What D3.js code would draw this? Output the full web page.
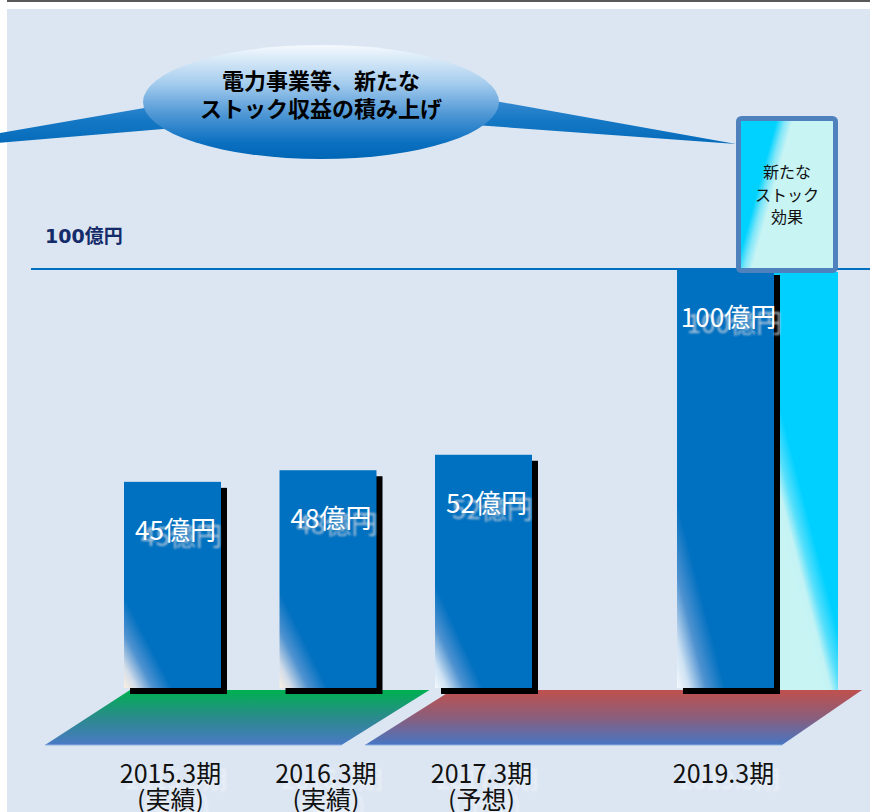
<!DOCTYPE html>
<html>
<head>
<meta charset="utf-8">
<script src="https://cdn.jsdelivr.net/npm/d3@7"></script>
<style>
  html, body { margin: 0; padding: 0; background: #ffffff; }
  svg { display: block; }
</style>
</head>
<body>
<svg id="chart" width="870" height="812"></svg>
<script>
// Operating profit by fiscal period (億円)
const periods = ["2015.3期", "2016.3期", "2017.3期", "2019.3期"];
const periodNotes = ["(実績)", "(実績)", "(予想)", ""];
const fiscalYears = [2015, 2016, 2017, 2019];
const profits = [45, 48, 52, 100];
const phases = ["actual", "actual", "plan", "plan"];
const targetValue = 100;
const unit = "億円";
const calloutLines = ["電力事業等、新たな", "ストック収益の積み上げ"];
const stockEffectLines = ["新たな", "ストック", "効果"];

const W = 870, H = 812;
const FONT = "'Noto Sans CJK JP', 'Noto Sans', sans-serif";
const svg = d3.select("#chart");
const defs = svg.append("defs");

// ---------- scales ----------
const barW = 97;
const floorY = 688;
const x = d3.scaleLinear().domain([2015, 2017, 2019]).range([124, 435, 677]);
const y = d3.scaleLinear().domain([0, targetValue]).range([656, 269]);

// ---------- gradients & filters ----------
function linearGrad(id, attrs, stops) {
  const g = defs.append("linearGradient").attr("id", id);
  Object.entries(attrs).forEach(([k, v]) => g.attr(k, v));
  stops.forEach(([o, c]) => g.append("stop").attr("offset", o).attr("stop-color", c));
}
linearGrad("barWarm", {x1: 0, y1: 1, x2: 0.223, y2: 0.752},
  [[0, "#fdf0e2"], [0.25, "#d3dde9"], [0.6, "#4f92d0"], [1, "#0070c0"]]);
linearGrad("barCool", {x1: 0, y1: 1, x2: 0.223, y2: 0.752},
  [[0, "#f4f9fd"], [0.25, "#cfe2f3"], [0.6, "#4f92d0"], [1, "#0070c0"]]);
linearGrad("stockBar", {x1: 0.40, y1: 0.80, x2: 0.53, y2: 0.58},
  [[0, "#c8f4f4"], [0.3, "#c4f3f5"], [0.6, "#56dffb"], [1, "#00d0ff"]]);
linearGrad("stockBox", {x1: 0.2, y1: 0.46, x2: 0.34, y2: 0.52},
  [[0, "#00d2ff"], [0.5, "#7fe6f8"], [1, "#c8f4f4"]]);
linearGrad("plateActual", {x1: 0, y1: 0, x2: 0, y2: 1},
  [[0, "#00b050"], [0.5, "#2a8a8c"], [1, "#4a7ac6"]]);
linearGrad("platePlan", {x1: 0, y1: 0, x2: 0, y2: 1},
  [[0, "#c0504d"], [0.5, "#8a5e7c"], [1, "#4676c4"]]);
linearGrad("bubble", {gradientUnits: "userSpaceOnUse", x1: 0, y1: 46, x2: 0, y2: 158},
  [[0, "#f3f8fd"], [0.33, "#a6cdee"], [0.6, "#5299d6"], [0.86, "#0c70c1"], [1, "#0066b6"]]);
linearGrad("tail", {gradientUnits: "userSpaceOnUse", x1: 0, y1: 98, x2: 0, y2: 150},
  [[0, "#3a8cd2"], [0.45, "#1477c4"], [1, "#0068b8"]]);

const blur = defs.append("filter").attr("id", "soft")
  .attr("x", "-10%").attr("y", "-20%").attr("width", "120%").attr("height", "140%");
blur.append("feGaussianBlur").attr("stdDeviation", 1.3);

// ---------- background ----------
svg.append("rect").attr("x", 7).attr("y", 0).attr("width", W - 7).attr("height", 2).attr("fill", "#595959");
svg.append("rect").attr("x", 7).attr("y", 9).attr("width", W - 7).attr("height", H - 9).attr("fill", "#dce6f2");

// ---------- callout bubble ----------
const bubble = svg.append("g");
bubble.append("polygon")
  .attr("points", [[-109, 152], [150, 107], [200, 110], [200, 125], [175, 128]].join(" "))
  .attr("fill", "url(#tail)");
bubble.append("polygon")
  .attr("points", [[736, 144], [495, 101], [440, 101], [440, 125], [475, 125]].join(" "))
  .attr("fill", "url(#tail)");
bubble.append("ellipse").attr("cx", 321).attr("cy", 102).attr("rx", 178).attr("ry", 57)
  .attr("fill", "url(#bubble)");
bubble.selectAll("text").data(calloutLines).join("text")
  .attr("x", 321).attr("y", (d, i) => 89 + i * 28)
  .attr("text-anchor", "middle")
  .attr("font-family", FONT).attr("font-weight", 700).attr("font-size", 22)
  .attr("fill", "#000").text(d => d);

// ---------- target line ----------
svg.append("line").attr("x1", 31).attr("x2", W).attr("y1", y(targetValue)).attr("y2", y(targetValue))
  .attr("stroke", "#0070c0").attr("stroke-width", 2);
svg.append("text").attr("x", 45).attr("y", y(targetValue) - 26)
  .attr("font-family", "'DejaVu Sans', 'Noto Sans CJK JP', sans-serif")
  .attr("font-weight", 700).attr("font-size", 19).attr("fill", "#142b6a")
  .text(targetValue + unit);

// ---------- floor plates ----------
const data = periods.map((p, i) => ({
  period: p, note: periodNotes[i], year: fiscalYears[i], value: profits[i], phase: phases[i]
}));
const plateTop = floorY + 2, plateBottom = 745;
const actual = data.filter(d => d.phase === "actual");
const plan = data.filter(d => d.phase === "plan");
const stockX = x(2019) + barW, stockW = 64;
function plate(x0, x1, skewL, skewR, fill) {
  svg.append("polygon")
    .attr("points", [[x0, plateTop], [x1, plateTop], [x1 - skewR, plateBottom], [x0 - skewL, plateBottom]].join(" "))
    .attr("fill", fill);
  svg.append("line").attr("x1", x0 - skewL).attr("x2", x1 - skewR)
    .attr("y1", plateBottom).attr("y2", plateBottom)
    .attr("stroke", "#8fb0dc").attr("stroke-width", 1);
}
plate(x(actual[0].year) + 6, x(actual[actual.length - 1].year) + barW + 53, 85, 88, "url(#plateActual)");
plate(x(plan[0].year) + 17, stockX + stockW + 24, 87, 80, "url(#platePlan)");

// ---------- new stock effect column (behind the 2019 bar) ----------
svg.append("rect").attr("x", stockX).attr("y", y(targetValue) + 3)
  .attr("width", stockW).attr("height", plateTop - y(targetValue) - 3)
  .attr("fill", "url(#stockBar)");

// ---------- bars ----------
const bars = svg.append("g");
bars.selectAll("rect.shadow").data(data).join("rect").attr("class", "shadow")
  .attr("x", d => x(d.year) + 6).attr("y", d => y(d.value) + 6)
  .attr("width", barW).attr("height", d => floorY - y(d.value))
  .attr("fill", "#000");
bars.selectAll("rect.bar").data(data).join("rect").attr("class", "bar")
  .attr("x", d => x(d.year)).attr("y", d => y(d.value))
  .attr("width", barW).attr("height", d => floorY - y(d.value))
  .attr("fill", d => d.phase === "actual" ? "url(#barWarm)" : "url(#barCool)");

// value labels with a soft ghost copy
const vl = svg.append("g").attr("font-family", FONT).attr("font-size", 26).attr("text-anchor", "middle");
vl.selectAll("text.ghost").data(data).join("text").attr("class", "ghost")
  .attr("x", d => x(d.year) + barW / 2 + 9).attr("y", d => y(d.value) + 64)
  .attr("fill", "#c6d0de").attr("opacity", 0.85).attr("filter", "url(#soft)")
  .text(d => d.value + unit);
vl.selectAll("text.val").data(data).join("text").attr("class", "val")
  .attr("x", d => x(d.year) + barW / 2 + 3).attr("y", d => y(d.value) + 58)
  .attr("fill", "#ffffff")
  .text(d => d.value + unit);

// ---------- stock effect box ----------
const boxL = x(2019) + 59, boxR = stockX + stockW, boxT = y(targetValue) - 153, boxB = y(targetValue) + 4;
svg.append("rect").attr("x", boxL + 2.5).attr("y", boxT + 2.5)
  .attr("width", boxR - boxL - 5).attr("height", boxB - boxT - 5).attr("rx", 3)
  .attr("fill", "url(#stockBox)").attr("stroke", "#4f81bd").attr("stroke-width", 5);
svg.append("g").selectAll("text").data(stockEffectLines).join("text")
  .attr("x", (boxL + boxR) / 2).attr("y", (d, i) => boxT + 62 + i * 22.5)
  .attr("text-anchor", "middle").attr("font-family", FONT).attr("font-size", 16)
  .attr("fill", "#111").text(d => d);

// ---------- period labels ----------
const pl = svg.append("g").attr("font-family", FONT).attr("font-size", 25).attr("text-anchor", "middle");
[["ghost", 6, 6], ["main", 0, 0]].forEach(([cls, dx, dy]) => {
  const g = pl.append("g");
  if (cls === "ghost") g.attr("fill", "#ffffff").attr("opacity", 0.45).attr("filter", "url(#soft)");
  else g.attr("fill", "#111111");
  g.selectAll("text.p").data(data).join("text").attr("class", "p")
    .attr("x", d => x(d.year) + barW / 2 - 2 + dx).attr("y", 783 + dy).text(d => d.period);
  g.selectAll("text.n").data(data.filter(d => d.note)).join("text").attr("class", "n")
    .attr("x", d => x(d.year) + barW / 2 - 2 + dx).attr("y", 809 + dy).text(d => d.note);
});
</script>
</body>
</html>
